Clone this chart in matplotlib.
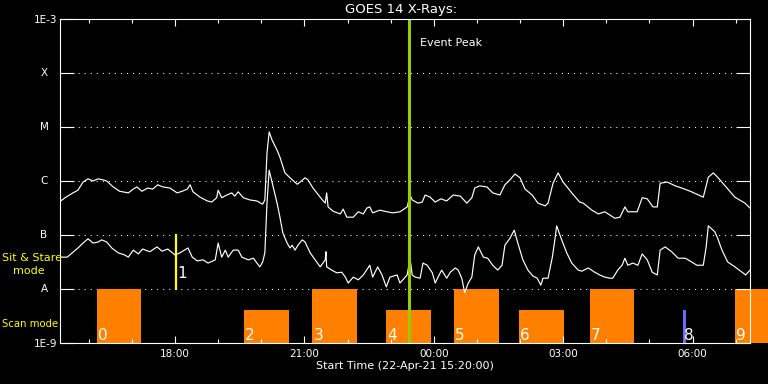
import numpy as np
import matplotlib
matplotlib.use('Agg')
import matplotlib.pyplot as plt
import matplotlib.dates as mdates
from matplotlib.ticker import NullLocator

# GOES 14 X-ray flux
# time = minutes after start (22-Apr-21 15:20), flux as log10(W/m^2)
start = np.datetime64('2021-04-22T15:20')
t_span = 16 * 60

# long channel (1-8 A)
long_min = [0, 7, 18, 25, 32, 39, 46, 53, 60, 65, 74, 83, 95, 102, 107, 114, 122, 129, 136, 143,
            153, 163, 170, 177, 181, 185, 195, 205, 211, 218, 220, 225, 232, 239, 243, 248, 255, 264, 274, 282,
            285, 288, 291, 295, 302, 306, 313, 320, 330, 334, 341, 345, 352, 365, 369, 371, 373, 380, 390, 394,
            399, 408, 415, 422, 427, 431, 435, 445, 455, 463, 473, 483, 487, 490, 498, 504, 508, 515, 522, 530,
            538, 547, 557, 566, 573, 577, 584, 594, 602, 612, 619, 626, 633, 640, 647, 657, 665, 675, 679, 686,
            693, 700, 712, 723, 728, 740, 749, 758, 772, 779, 786, 790, 803, 810, 817, 825, 831, 835, 845, 856,
            865, 877, 895, 902, 909, 915, 928, 939, 953, 960]
long_log = [-6.38, -6.31, -6.22, -6.17, -6.02, -5.96, -6.00, -5.96, -5.98, -6.00, -6.11, -6.19, -6.22, -6.15, -6.11, -6.19, -6.13, -6.15, -6.07, -6.11,
            -6.13, -6.22, -6.19, -6.15, -6.07, -6.20, -6.30, -6.37, -6.39, -6.31, -6.17, -6.31, -6.26, -6.22, -6.28, -6.20, -6.31, -6.35, -6.37, -6.43,
            -6.35, -5.48, -5.09, -5.24, -5.43, -5.56, -5.85, -5.94, -6.06, -6.02, -5.94, -5.98, -6.13, -6.35, -6.41, -6.22, -6.48, -6.56, -6.61, -6.52,
            -6.67, -6.67, -6.57, -6.61, -6.50, -6.48, -6.59, -6.54, -6.57, -6.59, -6.57, -6.48, -6.26, -6.35, -6.41, -6.39, -6.26, -6.30, -6.39, -6.33,
            -6.37, -6.26, -6.28, -6.41, -6.31, -6.13, -6.09, -6.11, -6.22, -6.26, -6.07, -5.98, -5.87, -5.94, -6.15, -6.26, -6.41, -6.46, -6.41, -6.04,
            -5.85, -6.02, -6.22, -6.39, -6.41, -6.54, -6.61, -6.57, -6.69, -6.67, -6.48, -6.57, -6.57, -6.31, -6.33, -6.48, -6.48, -6.04, -6.02, -6.09,
            -6.13, -6.19, -6.30, -5.93, -5.85, -5.93, -6.13, -6.30, -6.41, -6.50]

# short channel (0.5-4 A)
short_min = [0, 10, 17, 25, 32, 39, 46, 53, 58, 65, 72, 81, 90, 95, 102, 109, 115, 125, 135, 142,
             150, 160, 167, 178, 184, 191, 199, 206, 216, 220, 225, 230, 234, 241, 248, 253, 262, 269, 274, 278,
             282, 285, 288, 291, 295, 302, 306, 310, 316, 320, 323, 327, 331, 337, 341, 348, 355, 362, 369, 370,
             371, 378, 385, 392, 397, 401, 408, 415, 422, 431, 435, 442, 448, 454, 459, 469, 473, 477, 483, 487,
             490, 494, 501, 505, 511, 518, 522, 526, 531, 538, 543, 550, 554, 559, 563, 568, 573, 577, 582, 589,
             595, 602, 609, 615, 619, 626, 632, 637, 644, 651, 658, 664, 669, 672, 679, 685, 689, 691, 698, 705,
             712, 721, 726, 735, 744, 751, 758, 765, 769, 776, 782, 786, 790, 797, 804, 810, 817, 824, 831, 835,
             842, 851, 860, 870, 879, 886, 895, 899, 902, 911, 915, 921, 929, 939, 949, 954, 960]
short_log = [-7.41, -7.41, -7.33, -7.24, -7.15, -7.07, -7.15, -7.13, -7.09, -7.13, -7.24, -7.33, -7.37, -7.41, -7.28, -7.35, -7.26, -7.31, -7.22, -7.30,
             -7.26, -7.37, -7.33, -7.24, -7.41, -7.48, -7.46, -7.52, -7.46, -7.15, -7.41, -7.28, -7.41, -7.28, -7.28, -7.41, -7.46, -7.43, -7.52, -7.59,
             -7.50, -7.33, -6.41, -5.80, -6.02, -6.41, -6.67, -6.96, -7.15, -7.24, -7.19, -7.28, -7.19, -7.09, -7.13, -7.33, -7.46, -7.59, -7.46, -7.31,
             -7.59, -7.65, -7.70, -7.69, -7.78, -7.89, -7.78, -7.83, -7.74, -7.56, -7.78, -7.59, -7.74, -7.96, -7.78, -7.74, -7.89, -7.83, -7.74, -7.43,
             -7.74, -7.78, -7.80, -7.52, -7.56, -7.70, -7.89, -7.78, -7.65, -7.80, -7.69, -7.61, -7.65, -7.80, -8.07, -7.89, -7.78, -7.37, -7.22, -7.41,
             -7.43, -7.56, -7.65, -7.56, -7.19, -7.06, -6.91, -7.15, -7.46, -7.65, -7.76, -7.80, -7.93, -7.80, -7.80, -7.41, -7.04, -6.83, -7.09, -7.33,
             -7.52, -7.65, -7.67, -7.61, -7.69, -7.74, -7.78, -7.80, -7.80, -7.65, -7.56, -7.43, -7.56, -7.52, -7.56, -7.35, -7.46, -7.69, -7.74, -7.28,
             -7.22, -7.31, -7.43, -7.43, -7.50, -7.56, -7.56, -7.22, -6.83, -6.94, -7.06, -7.28, -7.50, -7.59, -7.69, -7.74, -7.65]

# observations: number, start/end (minutes after start), mode
obs_num = [0, 1, 2, 3, 4, 5, 6, 7, 8, 9]
obs_start = [51, 161, 256, 351, 454, 548, 639, 737, 867, 939]
obs_end = [113, 161, 319, 413, 516, 611, 701, 799, 871, 1010]
obs_mode = ['scan', 'sit', 'scan', 'scan', 'scan', 'scan', 'scan', 'scan', 'scan', 'scan']
obs_top = [1e-8, 1e-7, 4e-9, 1e-8, 4e-9, 1e-8, 4e-9, 1e-8, 4e-9, 1e-8]
obs_color = ['#ff8000', '#ffff00', '#ff8000', '#ff8000', '#ff8000', '#ff8000', '#ff8000', '#ff8000', '#6a6aff', '#ff8000']

event_peak = 486

class_levels = [1e-8, 1e-7, 1e-6, 1e-5, 1e-4]
class_names = ['A', 'B', 'C', 'M', 'X']


def to_num(minutes):
    return mdates.date2num(start + np.array(minutes, dtype='timedelta64[m]'))


plt.rcParams['font.family'] = 'DejaVu Sans'
fig = plt.figure(figsize=(7.68, 3.84), dpi=100, facecolor='black')
ax = fig.add_axes([60 / 768, 41 / 384, 690 / 768, 324 / 384])
ax.set_facecolor('black')
ax.set_yscale('log')
ax.set_ylim(1e-9, 1e-3)
ax.set_xlim(to_num(0), to_num(t_span))

# dotted class levels
for lev in class_levels:
    ax.axhline(lev, color='white', lw=0.75, ls=(0, (1, 4.8)), zorder=1)

# observation blocks
for n, s, e, mode, top, col in zip(obs_num, obs_start, obs_end, obs_mode, obs_top, obs_color):
    if mode == 'scan':
        x0 = to_num(s)
        ax.bar(x0, top - 1e-9, bottom=1e-9, width=to_num(e) - x0, align='edge',
               color=col, linewidth=0, clip_on=False, zorder=1.5)
        ax.text(x0 + 1.5 / 1440, 1.15e-9, str(n), color='white', fontsize=11,
                ha='left', va='baseline', zorder=4)
    else:
        ax.plot([to_num(s)] * 2, [1e-8, top], color=col, lw=1.6, zorder=3)
        ax.text(to_num(s) + 2 / 1440, 1.62e-8, str(n), color='white', fontsize=11,
                ha='left', va='baseline', zorder=4)

ax.plot(to_num(long_min), 10 ** np.array(long_log), color='white', lw=0.85, zorder=3)
ax.plot(to_num(short_min), 10 ** np.array(short_log), color='white', lw=0.85, zorder=3)

ax.axvline(to_num(event_peak), color='#99cc00', lw=2.2, zorder=3.5)
ax.text(to_num(event_peak + 15), 3.6e-4, 'Event Peak', color='white', fontsize=8,
        ha='left', va='center')

# axes styling
for sp in ax.spines.values():
    sp.set_color('white')
    sp.set_linewidth(0.8)
    sp.set_zorder(5)

ax.xaxis.set_major_locator(mdates.HourLocator(byhour=[0, 3, 6, 9, 12, 15, 18, 21]))
ax.xaxis.set_minor_locator(mdates.HourLocator())
ax.xaxis.set_major_formatter(mdates.DateFormatter('%H:%M'))
ax.tick_params(axis='x', which='major', direction='in', length=5, width=0.8, top=True,
               colors='white', labelsize=7.5, pad=4)
ax.tick_params(axis='x', which='minor', direction='in', length=2.8, width=0.8, top=True,
               colors='white')

ax.set_yticks([1e-9, 1e-8, 1e-7, 1e-6, 1e-5, 1e-4, 1e-3])
ax.set_yticklabels(['1E-9', '', '', '', '', '', '1E-3'])
ax.yaxis.set_minor_locator(NullLocator())
ax.tick_params(axis='y', which='major', direction='in', length=10, width=0.8, right=True,
               colors='white', labelsize=7.5, pad=2)
for lev, name in zip(class_levels, class_names):
    ax.text(-16 / 690, lev, name, transform=ax.get_yaxis_transform(), color='white',
            fontsize=7.5, ha='center', va='center')

fig.text(401 / 768, 1 - 10 / 384, 'GOES 14 X-Rays:', color='white', fontsize=9.5,
         ha='center', va='center')
ax.set_xlabel('Start Time (22-Apr-21 15:20:00)', color='white', fontsize=8, labelpad=2)

fig.text(2 / 768, 1 - 258 / 384, 'Sit & Stare', color='#ffff00', fontsize=8,
         ha='left', va='center')
fig.text(13 / 768, 1 - 271 / 384, 'mode', color='#ffff00', fontsize=8,
         ha='left', va='center')
fig.text(2 / 768, 1 - 324 / 384, 'Scan mode', color='#ffff00', fontsize=7.3,
         ha='left', va='center')

fig.savefig('out.png', dpi=100, facecolor='black')
